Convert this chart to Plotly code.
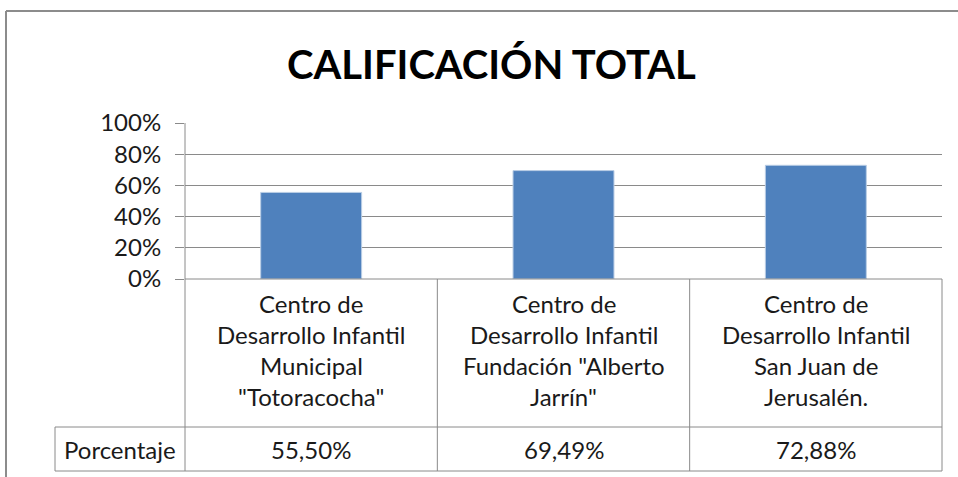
import plotly.graph_objects as go

# ---- data ----
categories = [
    'Centro de<br>Desarrollo Infantil<br>Municipal<br>"Totoracocha"',
    'Centro de<br>Desarrollo Infantil<br>Fundación "Alberto<br>Jarrín"',
    'Centro de<br>Desarrollo Infantil<br>San Juan de<br>Jerusalén.',
]
values = [55.50, 69.49, 72.88]  # percent
row_label = "Porcentaje"
title_text = "CALIFICACIÓN TOTAL"
y_ticks = [0, 0.2, 0.4, 0.6, 0.8, 1.0]

W, H = 958, 477
FONT = "Lato"
GRID = "#8a8a8a"
BAR = "#4f81bd"
TXT = "#1a1a1a"
FS = 24


def px(x):
    return x / W


def py(y):
    return 1 - y / H


x_keys = [c.replace("<br>", " ") for c in categories]

fig = go.Figure()
fig.add_trace(go.Bar(
    x=x_keys,
    y=[v / 100 for v in values],
    width=0.4,
    marker=dict(color=BAR, line=dict(color="#b9cde5", width=1)),
    hoverinfo="skip",
))

# plot area pixel geometry
PL, PR, PT, PB = 185, 942, 123, 279
ROW_TOP, ROW_BOT = 427, 471
LBL_L = 55

fig.update_layout(
    width=W, height=H,
    margin=dict(l=0, r=0, t=0, b=0, pad=0, autoexpand=False),
    paper_bgcolor="white", plot_bgcolor="white",
    showlegend=False,
    xaxis=dict(
        domain=[px(PL), px(PR)],
        range=[-0.5, 2.5],
        showticklabels=False, showgrid=False, zeroline=False, showline=False,
        fixedrange=True, automargin=False,
    ),
    yaxis=dict(
        domain=[py(PB), py(PT)],
        range=[0, 1],
        tickvals=y_ticks,
        tickformat=".0%",
        ticks="outside", ticklen=9, tickcolor=GRID, tickwidth=1,
        ticklabelstandoff=9,
        tickfont=dict(family=FONT, size=FS, color=TXT),
        showgrid=True, gridcolor=GRID, gridwidth=1,
        zeroline=False, showline=False,
        fixedrange=True, automargin=False,
    ),
)

shapes = []


def line(x0, y0, x1, y1, color=GRID, width=1):
    shapes.append(dict(type="line", xref="paper", yref="paper",
                       x0=px(x0), y0=py(y0), x1=px(x1), y1=py(y1),
                       line=dict(color=color, width=width)))


# outer chart border (top and left)
line(6, 11, W, 11, color="#8c8c8c", width=2)
line(6, 11, 6, H, color="#8c8c8c", width=2)

# table lines
col_edges = [PL + (PR - PL) * i / 3 for i in range(4)]
line(PL, PT, PL, ROW_BOT)                 # vertical axis line extended
line(PL, PB, PR, PB)                      # baseline / table top
line(LBL_L, ROW_TOP, PR, ROW_TOP)
line(LBL_L, ROW_BOT, PR, ROW_BOT)
line(LBL_L, ROW_TOP, LBL_L, ROW_BOT)
for xe in col_edges[1:]:
    line(xe, PB, xe, ROW_BOT)

annotations = [dict(
    text=f"<b>{title_text}</b>", xref="paper", yref="paper",
    x=px(491), y=py(64), xanchor="center", yanchor="middle",
    showarrow=False, font=dict(family=FONT, size=40, color="#000"),
)]

line_centers = [303, 334, 365, 396]
for cat_key, cat, v in zip(x_keys, categories, values):
    for ln, yc in zip(cat.split("<br>"), line_centers):
        annotations.append(dict(
            text=ln, xref="x", yref="paper", x=cat_key, y=py(yc),
            xanchor="center", yanchor="middle", showarrow=False,
            font=dict(family=FONT, size=FS, color=TXT),
        ))
    annotations.append(dict(
        text=f"{v:.2f}".replace(".", ",") + "%", xref="x", yref="paper",
        x=cat_key, y=py((ROW_TOP + ROW_BOT) / 2),
        xanchor="center", yanchor="middle", showarrow=False,
        font=dict(family=FONT, size=FS, color=TXT),
    ))

annotations.append(dict(
    text=row_label, xref="paper", yref="paper",
    x=px((LBL_L + PL) / 2), y=py((ROW_TOP + ROW_BOT) / 2),
    xanchor="center", yanchor="middle", showarrow=False,
    font=dict(family=FONT, size=FS, color=TXT),
))

fig.update_layout(shapes=shapes, annotations=annotations)
fig.write_html(
    "out.html",
    config={"displayModeBar": False, "staticPlot": True},
    post_script="document.body.style.margin='0';document.body.style.overflow='hidden';",
)
